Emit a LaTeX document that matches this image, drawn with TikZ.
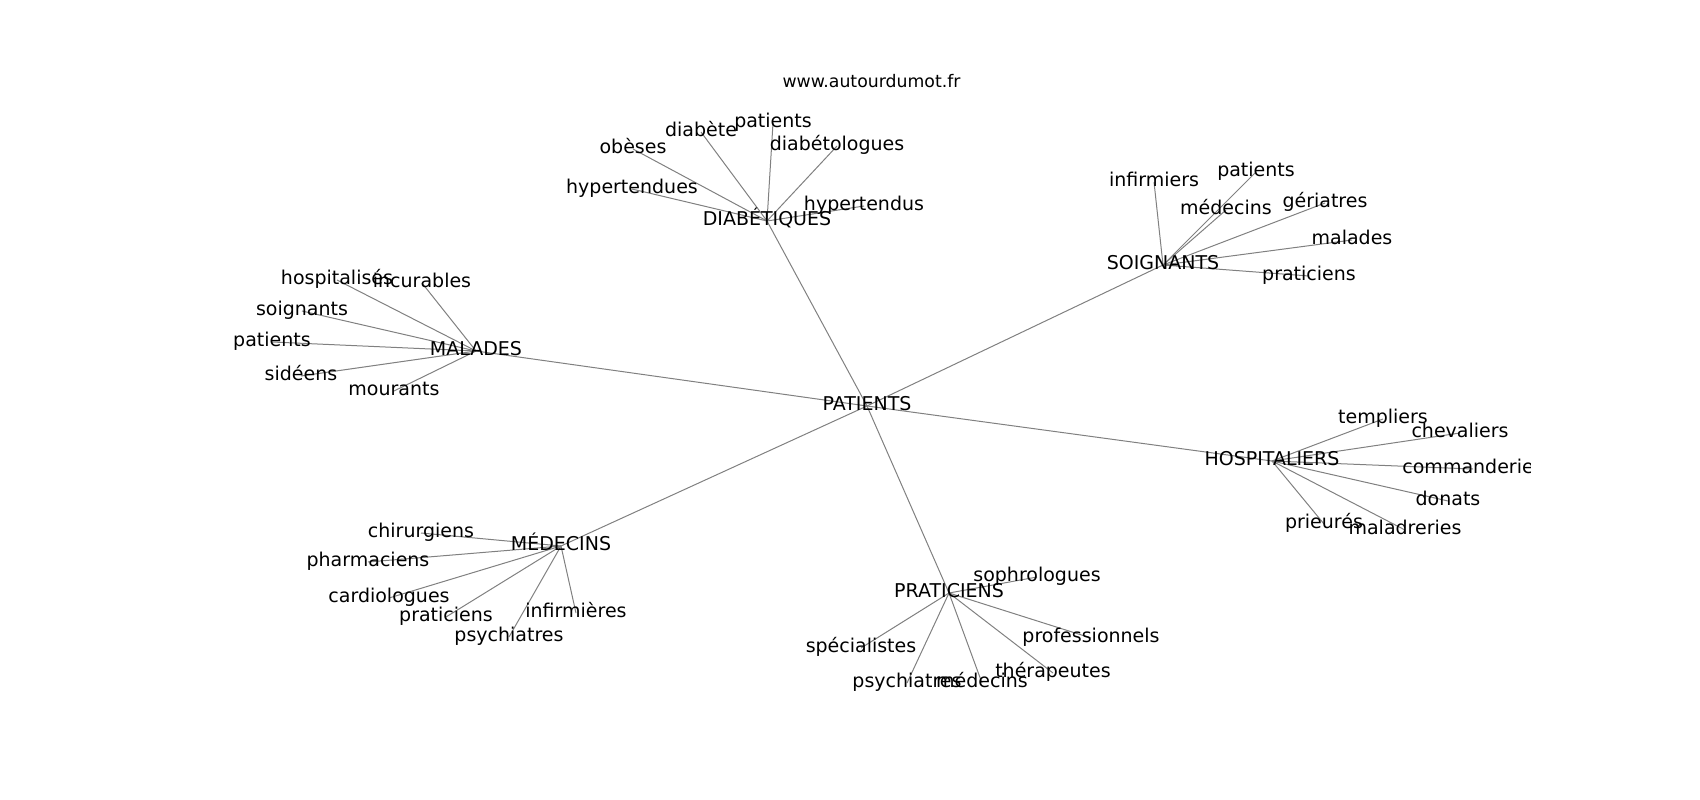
\documentclass[tikz,border=0pt]{standalone}
\usepackage{fontspec}
\setmainfont{DejaVu Sans}
\usetikzlibrary{backgrounds}

\begin{document}
\begin{tikzpicture}[x=1pt, y=-1pt,
    word/.style={font=\fontsize{19}{23}\selectfont, inner sep=0pt, text height=1.1em, text depth=0.11em, anchor=center},
    hub/.style={word},
    link/.style={black!50, line width=1pt}]
    \useasboundingbox (0,0) rectangle (1700,800);

    % Title
    \node[word, font=\fontsize{17.3}{21}\selectfont] (title) at (871.5,83) {www.autourdumot.fr};

    % Hubs
    \node[hub] (pat) at (867,406) {PATIENTS};
    \node[hub] (dia) at (767,221) {DIABÉTIQUES};
    \node[hub] (soi) at (1163,265) {SOIGNANTS};
    \node[hub] (mal) at (476,351) {MALADES};
    \node[hub] (hos) at (1272,461) {HOSPITALIERS};
    \node[hub] (med) at (561,546) {MÉDECINS};
    \node[hub] (pra) at (949,593) {PRATICIENS};

    % Leaves, clipped to the axes box
    \begin{scope}
        \clip (212.5,96) rectangle (1530,712);
        \foreach \n/\x/\y/\txt in {dia1/773/123/patients, dia2/701/132/diabète, dia3/633/149/obèses,
                dia4/837/146/diabétologues, dia5/632/189/hypertendues, dia6/864/206/hypertendus,
                soi1/1154/182/infirmiers, soi2/1256/172/patients, soi3/1226/210/médecins,
                soi4/1325/203/gériatres, soi5/1352/240/malades, soi6/1309/276/praticiens,
                mal1/337/280/hospitalisés, mal2/422/283/incurables, mal3/302/311/soignants,
                mal4/272/342/patients, mal5/301/376/sidéens, mal6/394/391/mourants,
                hos1/1383/419/templiers, hos2/1460/433/chevaliers, hos3/1473/469/commanderies,
                hos4/1448/501/donats, hos5/1324/524/prieurés, hos6/1405/530/maladreries,
                med1/421/533/chirurgiens, med2/368/562/pharmaciens, med3/389/598/cardiologues,
                med4/446/617/praticiens, med5/576/613/infirmières, med6/509/637/psychiatres,
                pra1/1037/577/sophrologues, pra2/1091/638/professionnels, pra3/861/648/spécialistes,
                pra4/1053/673/thérapeutes, pra5/907/683/psychiatres, pra6/982/683/médecins}
            \node[word] (\n) at (\x,\y) {\txt};
    \end{scope}

    % Edges
    \begin{scope}[on background layer]
        \foreach \h in {dia,soi,mal,hos,med,pra} {
            \draw[link] (pat.center) -- (\h.center);
            \foreach \i in {1,...,6}
                \draw[link] (\h.center) -- (\h\i.center);
        }
    \end{scope}
\end{tikzpicture}
\end{document}
